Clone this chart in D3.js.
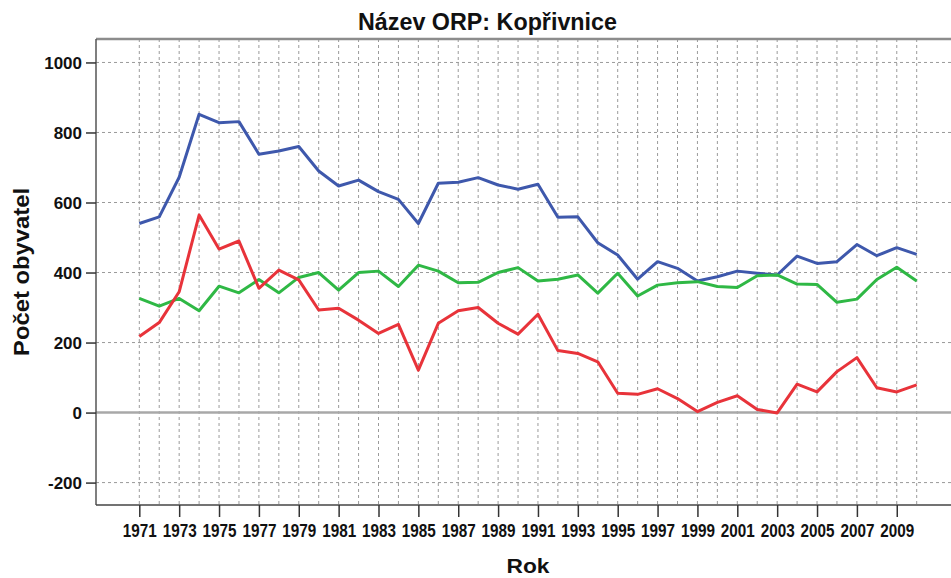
<!DOCTYPE html>
<html>
<head>
<meta charset="utf-8">
<script src="https://cdn.jsdelivr.net/npm/d3@7"></script>
<style>
  body { margin: 0; background: white; }
  svg { display: block; font-family: "Liberation Sans", Arial, sans-serif; }
</style>
</head>
<body>
<div id="chart"></div>
<script>
/* DATA */
const years = d3.range(1971, 2011)
const blueValues = [540, 559, 672, 852, 828, 831, 738, 747, 760, 690,
  647, 664, 631, 609, 540, 655, 658, 671, 650, 638,
  652, 558, 559, 485, 450, 381, 431, 412, 376, 388,
  404, 398, 393, 447, 426, 431, 480, 448, 471, 452]
const redValues = [217, 257, 345, 564, 467, 490, 355, 407, 379, 293,
  298, 264, 226, 252, 121, 255, 291, 300, 255, 224,
  281, 177, 169, 145, 55, 52, 68, 40, 3, 29,
  48, 9, -1, 81, 59, 117, 157, 71, 59, 79]
const greenValues = [326, 304, 326, 291, 361, 342, 380, 342, 386, 400,
  350, 400, 404, 360, 421, 404, 371, 372, 400, 414,
  376, 381, 393, 341, 398, 333, 364, 371, 374, 360,
  357, 391, 393, 367, 366, 315, 324, 380, 415, 376]
const yTicks = [-200, 0, 200, 400, 600, 800, 1000]
const xTickYears = years.filter(y => y % 2 === 1)
const title = "Název ORP: Kopřivnice"
const xTitle = "Rok"
const yTitle = "Počet obyvatel"

/* CONSTANTS */
const width = 951
const height = 578
const frame = { left: 96, top: 39, bottom: 505, right: 951 }
const seriesList = [
  { values: blueValues, color: "#3e58ac" },
  { values: greenValues, color: "#2fb845" },
  { values: redValues, color: "#e8333a" }
]

const xScale = d3.scalePoint()
  .domain(years)
  .range([139.3, 916.7])

const yScale = d3.scaleLinear()
  .domain([-264, 1067])
  .range([frame.bottom, frame.top])

const svg = d3.select("#chart")
  .append("svg")
  .attr("width", width)
  .attr("height", height)

/* GRID */
svg.append("g")
  .selectAll("line")
  .data(years)
  .join("line")
  .attr("x1", d => xScale(d)).attr("x2", d => xScale(d))
  .attr("y1", frame.top).attr("y2", frame.bottom)
  .attr("stroke", "#9a9a9a")
  .attr("stroke-dasharray", "3,3")

svg.append("g")
  .selectAll("line")
  .data(yTicks.filter(d => d !== 0))
  .join("line")
  .attr("x1", frame.left).attr("x2", frame.right)
  .attr("y1", d => yScale(d)).attr("y2", d => yScale(d))
  .attr("stroke", "#9a9a9a")
  .attr("stroke-dasharray", "3,3")

// zero reference line
svg.append("line")
  .attr("x1", frame.left).attr("x2", frame.right)
  .attr("y1", yScale(0)).attr("y2", yScale(0))
  .attr("stroke", "#a8a8a8")
  .attr("stroke-width", 2.5)

/* LINES */
const line = d3.line()
  .x((d, i) => xScale(years[i]))
  .y(d => yScale(d))

svg.append("g")
  .selectAll("path")
  .data(seriesList)
  .join("path")
  .attr("d", d => line(d.values))
  .attr("fill", "none")
  .attr("stroke", d => d.color)
  .attr("stroke-width", 3)
  .attr("stroke-linejoin", "round")

/* FRAME */
svg.append("line")
  .attr("x1", frame.left).attr("x2", frame.right)
  .attr("y1", frame.top).attr("y2", frame.top)
  .attr("stroke", "#8c8c8c").attr("stroke-width", 2.5)
svg.append("line")
  .attr("x1", frame.left).attr("x2", frame.left)
  .attr("y1", frame.top).attr("y2", frame.bottom)
  .attr("stroke", "#555").attr("stroke-width", 1.5)

/* AXES */
const xAxis = svg.append("g")
  .attr("transform", `translate(0,${frame.bottom})`)
  .call(d3.axisBottom(xScale).tickValues(xTickYears).tickSize(12).tickSizeOuter(0))
xAxis.select(".domain").attr("stroke", "#444").attr("stroke-width", 1.5)
  .attr("d", `M${frame.left},0H${frame.right}`)
xAxis.selectAll(".tick line").attr("stroke", "#333").attr("stroke-width", 1.5)
xAxis.selectAll(".tick text")
  .attr("y", 32).attr("dy", null)
  .attr("fill", "#111")
  .attr("font-size", 19)
  .attr("font-weight", "bold")
  .attr("font-family", "'Liberation Sans', Arial, sans-serif")
  .attr("textLength", 34)
  .attr("lengthAdjust", "spacingAndGlyphs")

const yAxis = svg.append("g")
  .attr("transform", `translate(${frame.left},0)`)
  .call(d3.axisLeft(yScale).tickValues(yTicks).tickFormat(d => String(d))
    .tickSize(10).tickPadding(4).tickSizeOuter(0))
yAxis.select(".domain").remove()
yAxis.selectAll(".tick line").attr("stroke", "#333").attr("stroke-width", 1.5)
yAxis.selectAll(".tick text")
  .attr("dy", "0.36em")
  .attr("fill", "#111")
  .attr("font-size", 17)
  .attr("font-weight", "bold")
  .attr("font-family", "'Liberation Sans', Arial, sans-serif")

/* TITLES */
svg.append("text")
  .attr("x", 487.5).attr("y", 30)
  .attr("text-anchor", "middle")
  .attr("font-size", 24).attr("font-weight", "bold")
  .attr("textLength", 259).attr("lengthAdjust", "spacingAndGlyphs")
  .attr("fill", "#111")
  .text(title)

svg.append("text")
  .attr("x", 528).attr("y", 573)
  .attr("text-anchor", "middle")
  .attr("font-size", 21).attr("font-weight", "bold")
  .attr("textLength", 43).attr("lengthAdjust", "spacingAndGlyphs")
  .attr("fill", "#111")
  .text(xTitle)

svg.append("text")
  .attr("transform", "translate(29,272) rotate(-90)")
  .attr("text-anchor", "middle")
  .attr("font-size", 22).attr("font-weight", "bold")
  .attr("textLength", 168).attr("lengthAdjust", "spacingAndGlyphs")
  .attr("fill", "#111")
  .text(yTitle)
</script>
</body>
</html>
